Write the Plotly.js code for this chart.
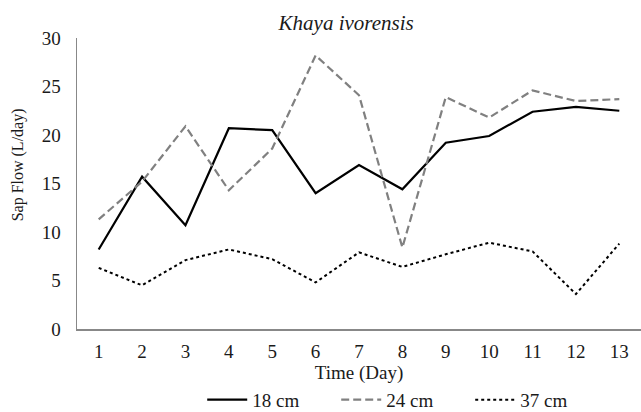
<!DOCTYPE html>
<html>
<head>
<meta charset="utf-8">
<script src="https://cdn.plot.ly/plotly-3.0.1.min.js"></script>
<style>html,body{margin:0;padding:0;background:#fff;}#chart{width:641px;height:412px;}</style>
</head>
<body>
<div id="chart"></div>
<script>
const days = [1,2,3,4,5,6,7,8,9,10,11,12,13];
const flow18 = [8.2,15.7,10.7,20.7,20.5,14.0,16.9,14.4,19.2,19.9,22.4,22.9,22.5];
const flow24 = [11.3,15.2,20.9,14.3,18.6,28.2,24.1,8.4,23.9,21.8,24.6,23.5,23.7];
const flow37 = [6.3,4.5,7.1,8.2,7.2,4.8,7.9,6.4,7.7,8.9,8.0,3.6,8.8];
const seriesNames = ['18 cm','24 cm','37 cm'];

const FAM = 'Liberation Serif, Times New Roman, serif';
const font = {family: FAM, color: '#1a1a1a', size: 19};

const traces = [
  {x: days, y: flow18, name: seriesNames[0], mode: 'lines', line: {color: '#000', width: 2.2, dash: 'solid'}},
  {x: days, y: flow24, name: seriesNames[1], mode: 'lines', line: {color: '#808080', width: 2.2, dash: '8px,4px'}},
  {x: days, y: flow37, name: seriesNames[2], mode: 'lines', line: {color: '#000', width: 2, dash: 'dot'}}
];

const layout = {
  width: 641, height: 412,
  margin: {l: 77, r: 0, t: 38, b: 83, autoexpand: false},
  paper_bgcolor: '#fff', plot_bgcolor: '#fff',
  font: font,
  showlegend: true,
  title: {text: '<i>Khaya ivorensis</i>', font: {family: FAM, size: 21, color: '#1a1a1a'}, x: 0.54, xanchor: 'center', y: 0.945, yanchor: 'middle'},
  xaxis: {
    range: [0.5, 13.5], tickmode: 'array', tickvals: days, ticktext: days.map(String),
    showgrid: false, zeroline: false, showline: true, linecolor: '#888', linewidth: 1.5,
    ticks: '', tickfont: {family: FAM, size: 19}, ticklabelstandoff: 5,
    title: {text: 'Time (Day)', font: {family: FAM, size: 19}, standoff: 4}
  },
  yaxis: {
    range: [0, 30], tickvals: [0,5,10,15,20,25,30],
    showgrid: false, zeroline: false, showline: true, linecolor: '#888', linewidth: 1.5,
    ticks: '', tickfont: {family: FAM, size: 19}, ticklabelstandoff: 11
  },
  annotations: [{
    text: 'Sap Flow (L/day)', textangle: -90, xref: 'paper', yref: 'paper',
    x: -0.105, y: 0.565, xanchor: 'center', yanchor: 'middle', showarrow: false,
    font: {family: FAM, size: 16, color: '#1a1a1a'}
  }],
  legend: {orientation: 'h', x: 0.222, xanchor: 'left', y: -0.178, yanchor: 'top',
           font: {family: FAM, size: 19}, itemwidth: 40, entrywidth: 79, entrywidthmode: 'pixels', tracegroupgap: 0}
};

Plotly.newPlot('chart', traces, layout, {displayModeBar: false, staticPlot: true});
</script>
</body>
</html>
